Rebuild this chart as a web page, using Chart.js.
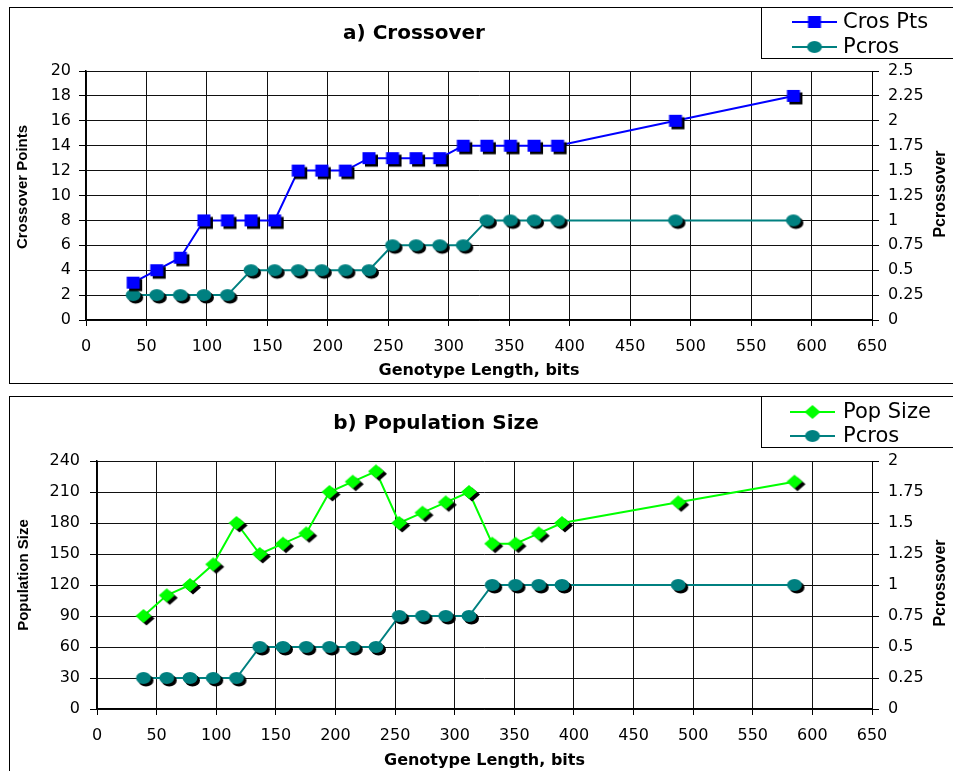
<!DOCTYPE html>
<html><head><meta charset="utf-8">
<script src="https://cdn.jsdelivr.net/npm/chart.js@4/dist/chart.umd.min.js"></script>
<style>
html,body{margin:0;padding:0;background:#fff;overflow:hidden;width:953px;height:771px;}
.box{position:absolute;border:1px solid #000;background:#fff;overflow:hidden;}
#boxA{left:9px;top:7px;width:1000px;height:375px;}
#boxB{left:9px;top:396px;width:1000px;height:400px;}
canvas{position:absolute;left:0;top:0;}
</style></head><body>
<div class="box" id="boxA"><canvas id="cA" width="950" height="375" style="width:950px;height:375px"></canvas></div>
<div class="box" id="boxB"><canvas id="cB" width="950" height="374" style="width:950px;height:374px"></canvas></div>
<script>
// ---- data ----
const genotypeLength = [39,58.5,78,97.5,117,136.5,156,175.5,195,214.5,234,253.5,273,292.5,312,331.5,351,370.5,390,487.5,585];
const crosPts = [3,4,5,8,8,8,8,12,12,12,13,13,13,13,14,14,14,14,14,16,18];
const pcros = [0.25,0.25,0.25,0.25,0.25,0.5,0.5,0.5,0.5,0.5,0.5,0.75,0.75,0.75,0.75,1,1,1,1,1,1];
const popSize = [90,110,120,140,180,150,160,170,210,220,230,180,190,200,210,160,160,170,180,200,220];
const xTickValues = [0,50,100,150,200,250,300,350,400,450,500,550,600,650];
const crosTickValues = [0,2,4,6,8,10,12,14,16,18,20];
const pcrosTickValuesA = [0,0.25,0.5,0.75,1,1.25,1.5,1.75,2,2.25,2.5];
const popTickValues = [0,30,60,90,120,150,180,210,240];
const pcrosTickValuesB = [0,0.25,0.5,0.75,1,1.25,1.5,1.75,2];

const BLUE='#0000FF', TEAL='#008080', GREEN='#00FF00';

function markerImg(kind, color, shadow){
  const c=document.createElement('canvas'); c.width=34; c.height=34;
  const g=c.getContext('2d');
  const m=17;
  const draw=(dx,dy,fill)=>{
    g.fillStyle=fill; g.beginPath();
    if(kind==='square') g.rect(m-6.5+dx,m-6+dy,13,12);
    else if(kind==='circle') g.ellipse(m+dx,m+dy,7.5,6,0,0,Math.PI*2);
    else { g.moveTo(m+dx,m-7+dy); g.lineTo(m+8+dx,m+dy); g.lineTo(m+dx,m+7+dy); g.lineTo(m-8+dx,m+dy); g.closePath(); }
    g.fill();
  };
  if(shadow) draw(kind==='diamond'?3:2.5, 2.5, '#000');
  draw(0,0,color);
  return c;
}

const pts = (xs, ys) => xs.map((x,i)=>({x:x, y:ys[i]}));

const textPlugin = {
  id:'texts',
  afterDraw(chart, args, o){
    const ctx=chart.ctx; ctx.save();
    ctx.fillStyle='#000';
    ctx.textAlign='center'; ctx.textBaseline='middle';
    ctx.font='bold 20px "DejaVu Sans"';
    ctx.fillText(o.title, o.titleX, o.titleY);
    // y titles
    ctx.font='bold 15px "Liberation Sans"';
    ctx.save(); ctx.translate(o.yTitleX, o.yTitleY); ctx.rotate(-Math.PI/2); ctx.fillText(o.yTitle,0,0); ctx.restore();
    ctx.font='bold 16px "Liberation Sans"';
    ctx.save(); ctx.translate(o.y1TitleX, o.y1TitleY); ctx.rotate(-Math.PI/2); ctx.fillText(o.y1Title,0,0); ctx.restore();
    // legend
    ctx.fillStyle='#fff'; ctx.strokeStyle='#000'; ctx.lineWidth=1;
    ctx.fillRect(o.legX, -2, 300, o.legBottom+2);
    ctx.strokeRect(o.legX+0.5, -1.5, 300, o.legBottom+2);
    ctx.font='21px "DejaVu Sans"'; ctx.textAlign='left';
    chart.data.datasets.forEach((ds,i)=>{
      const y=o.legY[i];
      ctx.strokeStyle=ds.borderColor; ctx.lineWidth=2;
      ctx.beginPath(); ctx.moveTo(o.legLine[0], y); ctx.lineTo(o.legLine[1], y); ctx.stroke();
      const m=ds.legendMarker;
      ctx.drawImage(m, (o.legLine[0]+o.legLine[1])/2 - m.width/2, y - m.height/2);
      ctx.fillStyle='#000';
      ctx.fillText(ds.label, o.legText, y+1);
    });
    ctx.restore();
  }
};

function makeChart(id, cfg){
  const tickFont={family:'DejaVu Sans', size:16};
  const grid={color:'#111', lineWidth:1, tickLength:7, tickColor:'#000'};
  return new Chart(document.getElementById(id), {
    type:'line',
    data:{datasets:cfg.datasets},
    plugins:[textPlugin],
    options:{
      responsive:false, animation:false, events:[],
      layout:{padding:{left:5,right:0,top:cfg.padTop,bottom:0}},
      plugins:{legend:{display:false}, tooltip:{enabled:false}, title:{display:false},
        texts:cfg.texts},
      scales:{
        x:{type:'linear', position:'bottom', min:0, max:650,
          afterBuildTicks:s=>{s.ticks=xTickValues.map(v=>({value:v}));},
          afterFit:s=>{s.height=cfg.xHeight;},
          ticks:{font:tickFont, color:'#000', padding:11, maxRotation:0, autoSkip:false, callback:v=>String(v)},
          grid:{...grid, tickLength:6},
          border:{color:'#000', width:1.5},
          title:{display:true, text:'Genotype Length, bits', color:'#000',
            font:{family:'DejaVu Sans', weight:'bold', size:16}, padding:{top:0,bottom:cfg.xTitlePad}}
        },
        y:{type:'linear', position:'left', min:0, max:cfg.yMax,
          afterBuildTicks:s=>{s.ticks=cfg.yTicks.map(v=>({value:v}));},
          afterFit:s=>{s.width=cfg.yWidth;},
          ticks:{font:tickFont, color:'#000', padding:cfg.yPad, autoSkip:false, callback:v=>String(v)},
          grid:grid, border:{color:'#000', width:1.5}
        },
        y1:{type:'linear', position:'right', min:0, max:cfg.y1Max,
          afterBuildTicks:s=>{s.ticks=cfg.y1Ticks.map(v=>({value:v}));},
          afterFit:s=>{s.width=88;},
          ticks:{font:tickFont, color:'#000', padding:9, autoSkip:false, callback:v=>String(v)},
          grid:{...grid, drawOnChartArea:false}, border:{color:'#000', width:1}
        }
      }
    }
  });
}

makeChart('cA', {
  padTop:63, xHeight:63, xTitlePad:3, yWidth:71, yPad:8,
  yMax:20, yTicks:crosTickValues, y1Max:2.5, y1Ticks:pcrosTickValuesA,
  datasets:[
    {label:'Cros Pts', data:pts(genotypeLength,crosPts), yAxisID:'y', borderColor:BLUE, borderWidth:2,
     pointStyle:markerImg('square',BLUE,true), pointRadius:6, legendMarker:markerImg('square',BLUE,false)},
    {label:'Pcros', data:pts(genotypeLength,pcros), yAxisID:'y1', borderColor:TEAL, borderWidth:2,
     pointStyle:markerImg('circle',TEAL,true), pointRadius:6, legendMarker:markerImg('circle',TEAL,false)}
  ],
  texts:{title:'a) Crossover', titleX:404, titleY:26, yTitle:'Crossover Points', yTitleX:13, yTitleY:179,
    y1Title:'Pcrossover', y1TitleX:931, y1TitleY:186,
    legX:751, legBottom:50, legY:[14,39], legLine:[782,827], legText:833}
});

makeChart('cB', {
  padTop:64, xHeight:62, xTitlePad:1, yWidth:82, yPad:10,
  yMax:240, yTicks:popTickValues, y1Max:2, y1Ticks:pcrosTickValuesB,
  datasets:[
    {label:'Pop Size', data:pts(genotypeLength,popSize), yAxisID:'y', borderColor:GREEN, borderWidth:2,
     pointStyle:markerImg('diamond',GREEN,true), pointRadius:6, legendMarker:markerImg('diamond',GREEN,false)},
    {label:'Pcros', data:pts(genotypeLength,pcros), yAxisID:'y1', borderColor:TEAL, borderWidth:2,
     pointStyle:markerImg('circle',TEAL,true), pointRadius:6, legendMarker:markerImg('circle',TEAL,false)}
  ],
  texts:{title:'b) Population Size', titleX:426, titleY:27, yTitle:'Population Size', yTitleX:14, yTitleY:178,
    y1Title:'Pcrossover', y1TitleX:931, y1TitleY:186,
    legX:751, legBottom:50, legY:[15,39], legLine:[780,825], legText:833}
});
</script>
</body></html>
